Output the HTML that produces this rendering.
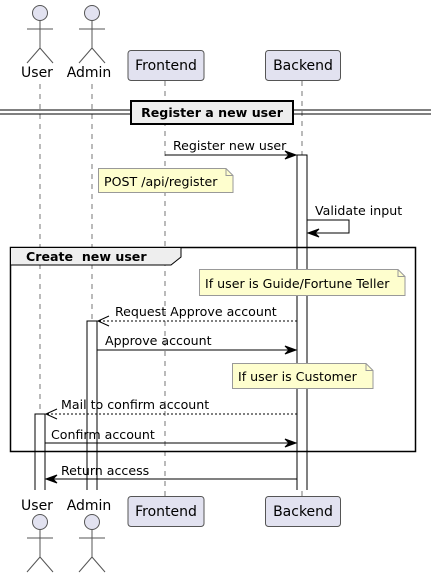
<!DOCTYPE html>
<html><head><meta charset="utf-8"><style>html,body{margin:0;padding:0;background:#fff}svg{display:block}text{font-family:"DejaVu Sans","Liberation Sans",sans-serif}</style></head><body>
<svg width="431" height="577" viewBox="0 0 431 577" xmlns="http://www.w3.org/2000/svg">
<defs>
<g id="actor" fill="none" stroke="#555" stroke-width="1">
<circle cx="0" cy="0" r="7.5" fill="#e2e2f0"/>
<line x1="0" y1="7.5" x2="0" y2="35"/>
<line x1="-13" y1="16" x2="13" y2="16"/>
<line x1="0" y1="35" x2="-13" y2="50"/>
<line x1="0" y1="35" x2="13" y2="50"/>
</g>
</defs>
<g stroke="#555" stroke-dasharray="5,5" stroke-width="0.8">
<line x1="40" y1="84" x2="40" y2="492"/>
<line x1="92" y1="84" x2="92" y2="492"/>
<line x1="165" y1="81" x2="165" y2="496"/>
<line x1="302" y1="81" x2="302" y2="496"/>
</g>
<use href="#actor" x="40" y="13"/>
<use href="#actor" x="92" y="13"/>
<text x="37" y="77" font-size="14" text-anchor="middle">User</text>
<text x="89" y="77" font-size="14" text-anchor="middle">Admin</text>
<rect x="128" y="50.5" width="76" height="30" rx="3" fill="#e2e2f0" stroke="#555"/>
<text x="166" y="70" font-size="14" text-anchor="middle">Frontend</text>
<rect x="265.5" y="50.5" width="75" height="30" rx="3" fill="#e2e2f0" stroke="#555"/>
<text x="303" y="70" font-size="14" text-anchor="middle">Backend</text>
<use href="#actor" x="40" y="522"/>
<use href="#actor" x="92" y="522"/>
<text x="37" y="510" font-size="14" text-anchor="middle">User</text>
<text x="89" y="510" font-size="14" text-anchor="middle">Admin</text>
<rect x="128" y="496.5" width="76" height="30" rx="3" fill="#e2e2f0" stroke="#555"/>
<text x="166" y="516" font-size="14" text-anchor="middle">Frontend</text>
<rect x="265.5" y="496.5" width="75" height="30" rx="3" fill="#e2e2f0" stroke="#555"/>
<text x="303" y="516" font-size="14" text-anchor="middle">Backend</text>
<line x1="0" y1="110" x2="431" y2="110" stroke="#000"/>
<line x1="0" y1="114" x2="431" y2="114" stroke="#000"/>
<rect x="131" y="101" width="162" height="23" fill="#eee" stroke="#000" stroke-width="2"/>
<text x="212" y="117" font-size="12.6" font-weight="bold" text-anchor="middle">Register a new user</text>
<g fill="#fff" stroke="#000">
<path d="M297,490 V155 H307 V490"/>
<path d="M87,490 V321 H97 V490"/>
<path d="M35,490 V414 H45 V490"/>
</g>
<line x1="165" y1="155" x2="295" y2="155" stroke="#000"/>
<path d="M296,155 L285,151 L289,155 L285,159 Z" fill="#000" stroke="#000"/>
<text x="173" y="150" font-size="12.6">Register new user</text>
<path d="M98.5,168.5 H226 L233,175.5 V192.5 H98.5 Z" fill="#fefece" stroke="#999"/>
<path d="M226,168.5 V175.5 H233" fill="none" stroke="#999"/>
<text x="104" y="186" font-size="12.6">POST /api/register</text>
<path d="M307,220 H349 V233 H309" fill="none" stroke="#000"/>
<path d="M308,233 L319,229 L315,233 L319,237 Z" fill="#000" stroke="#000"/>
<text x="315" y="215" font-size="12.6">Validate input</text>
<rect x="10.5" y="247.5" width="405" height="204" fill="none" stroke="#000" stroke-width="1.5"/>
<path d="M10.5,247.5 H181 V257 L171,265 H10.5 Z" fill="#eee" stroke="#000"/>
<text x="26" y="261" font-size="12.6" font-weight="bold" xml:space="preserve">Create  new user</text>
<path d="M199.5,269.5 H398 L405,276.5 V295.5 H199.5 Z" fill="#fefece" stroke="#999"/>
<path d="M398,269.5 V276.5 H405" fill="none" stroke="#999"/>
<text x="205" y="288" font-size="12.6">If user is Guide/Fortune Teller</text>
<line x1="297" y1="321" x2="99" y2="321" stroke="#000" stroke-dasharray="2,2"/>
<path d="M109,316 L98,321 L109,326" fill="none" stroke="#000"/>
<text x="115" y="316" font-size="12.6">Request Approve account</text>
<line x1="97" y1="350" x2="295" y2="350" stroke="#000"/>
<path d="M296,350 L285,346 L289,350 L285,354 Z" fill="#000" stroke="#000"/>
<text x="105" y="345" font-size="12.6">Approve account</text>
<path d="M232.5,363.5 H366 L373,370.5 V388.5 H232.5 Z" fill="#fefece" stroke="#999"/>
<path d="M366,363.5 V370.5 H373" fill="none" stroke="#999"/>
<text x="238" y="381" font-size="12.6">If user is Customer</text>
<line x1="297" y1="414" x2="47" y2="414" stroke="#000" stroke-dasharray="2,2"/>
<path d="M57,409 L46,414 L57,419" fill="none" stroke="#000"/>
<text x="61" y="409" font-size="12.6">Mail to confirm account</text>
<line x1="45" y1="443" x2="295" y2="443" stroke="#000"/>
<path d="M296,443 L285,439 L289,443 L285,447 Z" fill="#000" stroke="#000"/>
<text x="51" y="439" font-size="12.6">Confirm account</text>
<line x1="297" y1="479" x2="47" y2="479" stroke="#000"/>
<path d="M46,479 L57,475 L53,479 L57,483 Z" fill="#000" stroke="#000"/>
<text x="61" y="475" font-size="12.6">Return access</text>
</svg>
</body></html>
